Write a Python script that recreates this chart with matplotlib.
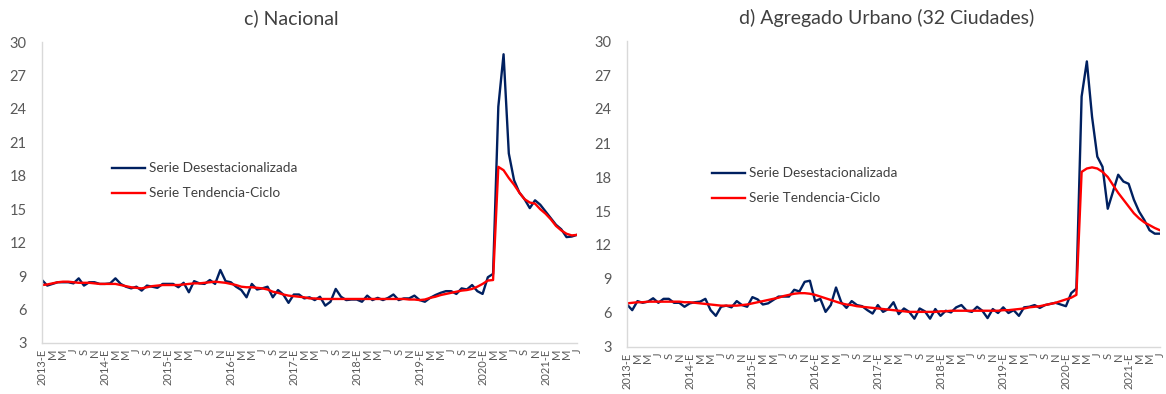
import matplotlib
matplotlib.use("Agg")
import matplotlib.pyplot as plt
import numpy as np

plt.rcParams['font.family'] = ['Lato', 'DejaVu Sans']

# Month labels: every other month from 2013-E to 2021-J
years = list(range(2013, 2022))
month_codes = ["E", "F", "M", "A", "M", "J", "J", "A", "S", "O", "N", "D"]

nac_desest = [8.65, 8.15, 8.3, 8.45, 8.45, 8.45, 8.35, 8.8, 8.15, 8.45, 8.45, 8.3,
              8.3, 8.35, 8.8, 8.3, 8.05, 7.9, 8.05, 7.7, 8.15, 8.05, 7.95, 8.3,
              8.3, 8.3, 8.0, 8.4, 7.55, 8.55, 8.35, 8.3, 8.65, 8.3, 9.55, 8.55,
              8.45, 8.05, 7.75, 7.1, 8.3, 7.8, 7.9, 8.05, 7.1, 7.75, 7.35, 6.6,
              7.35, 7.35, 7.0, 7.1, 6.85, 7.15, 6.35, 6.7, 7.85, 7.15, 6.85, 6.9,
              6.9, 6.7, 7.25, 6.85, 7.05, 6.85, 7.05, 7.35, 6.85, 7.0, 7.0, 7.25,
              6.85, 6.7, 7.05, 7.3, 7.5, 7.65, 7.65, 7.4, 7.9, 7.8, 8.2, 7.65,
              7.4, 8.9, 9.2, 24.2, 28.9, 20.0, 17.6, 16.5, 15.9, 15.1, 15.8, 15.4,
              14.8, 14.2, 13.6, 13.2, 12.5, 12.55, 12.7]

nac_tend = [8.2, 8.25, 8.35, 8.45, 8.5, 8.5, 8.45, 8.4, 8.4, 8.4, 8.35, 8.3,
            8.3, 8.3, 8.3, 8.2, 8.1, 8.0, 7.95, 7.9, 8.0, 8.1, 8.15, 8.2,
            8.2, 8.2, 8.2, 8.25, 8.3, 8.35, 8.35, 8.4, 8.45, 8.5, 8.45, 8.4,
            8.3, 8.2, 8.05, 8.0, 8.0, 7.95, 7.9, 7.8, 7.6, 7.5, 7.35, 7.25,
            7.2, 7.15, 7.1, 7.0, 7.0, 6.95, 6.95, 6.95, 6.95, 6.95, 6.95, 6.95,
            6.95, 6.95, 6.95, 6.95, 6.95, 6.95, 6.95, 6.95, 6.95, 6.95, 6.9, 6.9,
            6.85, 6.9, 7.05, 7.15, 7.3, 7.4, 7.5, 7.6, 7.7, 7.75, 7.85, 8.05,
            8.3, 8.6, 8.65, 18.8, 18.5, 17.8, 17.2, 16.5, 15.9, 15.6, 15.5, 15.0,
            14.6, 14.1, 13.5, 13.1, 12.8, 12.65, 12.7]

urb_desest = [6.75, 6.25, 7.05, 6.9, 7.0, 7.3, 6.9, 7.25, 7.25, 6.9, 6.9, 6.55,
              6.85, 6.95, 7.0, 7.25, 6.25, 5.75, 6.55, 6.65, 6.5, 7.05, 6.7, 6.55,
              7.4, 7.2, 6.75, 6.85, 7.15, 7.45, 7.45, 7.45, 8.05, 7.9, 8.75, 8.85,
              7.05, 7.25, 6.1, 6.7, 8.25, 6.95, 6.45, 7.05, 6.7, 6.6, 6.25, 5.95,
              6.7, 6.1, 6.35, 6.95, 5.9, 6.4, 6.1, 5.5, 6.4, 6.15, 5.5, 6.35,
              5.75, 6.2, 6.05, 6.5, 6.7, 6.2, 6.1, 6.55, 6.2, 5.55, 6.35, 6.0,
              6.5, 6.0, 6.25, 5.75, 6.5, 6.55, 6.7, 6.45, 6.7, 6.8, 6.9, 6.75,
              6.6, 7.75, 8.15, 25.1, 28.2, 23.3, 19.8, 18.9, 15.2, 16.7, 18.2, 17.6,
              17.4, 16.0, 14.95, 14.2, 13.3, 13.0, 13.0]

urb_tend = [6.85, 6.9, 6.95, 6.95, 7.0, 7.0, 7.0, 7.0, 7.0, 7.0, 7.0, 6.95,
            6.95, 6.9, 6.85, 6.8, 6.75, 6.7, 6.65, 6.65, 6.65, 6.65, 6.7, 6.75,
            6.85, 6.95, 7.05, 7.15, 7.25, 7.35, 7.5, 7.6, 7.7, 7.75, 7.75, 7.7,
            7.6, 7.45, 7.3, 7.15, 7.0, 6.85, 6.75, 6.7, 6.6, 6.55, 6.5, 6.45,
            6.4, 6.35, 6.3, 6.25, 6.2, 6.15, 6.1, 6.1, 6.1, 6.1, 6.1, 6.1,
            6.15, 6.15, 6.2, 6.2, 6.2, 6.2, 6.2, 6.2, 6.2, 6.2, 6.2, 6.2,
            6.25, 6.25, 6.3, 6.35, 6.4, 6.5, 6.55, 6.6, 6.7, 6.8, 6.9, 7.05,
            7.2, 7.35, 7.6, 18.45, 18.75, 18.85, 18.75, 18.45, 18.0, 17.3, 16.6, 16.0,
            15.4, 14.8, 14.35, 14.0, 13.75, 13.5, 13.3]

titles = ["c) Nacional", "d) Agregado Urbano (32 Ciudades)"]
legend_labels = ["Serie Desestacionalizada", "Serie Tendencia-Ciclo"]
yticks = [3, 6, 9, 12, 15, 18, 21, 24, 27, 30]

n = len(nac_desest)
tick_pos = []
tick_lab = []
for k in range(0, n, 2):
    y = years[k // 12]
    m = k % 12
    tick_pos.append(k)
    tick_lab.append(f"{y}-E" if m == 0 else month_codes[m])

BLUE = "#002060"
RED = "#FF0000"
GRAY = "#595959"
AXC = "#D9D9D9"

fig = plt.figure(figsize=(11.66, 3.94), dpi=100)
axes_rects = [
    [42 / 1166, (394 - 343) / 394, 535 / 1166, 301 / 394],
    [627 / 1166, (394 - 347) / 394, 533 / 1166, 306 / 394],
]
title_x = [291 / 1166, 887 / 1166]
legend_anchor = [(0.131, 0.60), (0.160, 0.587)]
series = [(nac_desest, nac_tend), (urb_desest, urb_tend)]

for idx in range(2):
    ax = fig.add_axes(axes_rects[idx])
    d, t = series[idx]
    x = np.arange(n)
    ax.plot(x, d, color=BLUE, lw=1.7, label=legend_labels[0])
    ax.plot(x, t, color=RED, lw=1.7, label=legend_labels[1])
    ax.set_xlim(0, n - 1)
    ax.set_ylim(3, 30)
    ax.set_yticks(yticks)
    ax.set_yticklabels([str(v) for v in yticks])
    ax.set_xticks(tick_pos)
    ax.set_xticklabels(tick_lab, rotation=90, fontsize=8, color=GRAY)
    ax.tick_params(axis='y', length=0, pad=11, labelsize=10.5, labelcolor=GRAY)
    ax.tick_params(axis='x', length=0, pad=4)
    for s in ['top', 'right']:
        ax.spines[s].set_visible(False)
    for s in ['left', 'bottom']:
        ax.spines[s].set_color(AXC)
        ax.spines[s].set_linewidth(1.0)
    fig.text(title_x[idx], 1 - 18 / 394, titles[idx], fontsize=14, color="#404040",
             ha='center', va='center')
    ax.legend(loc='upper left', bbox_to_anchor=legend_anchor[idx], frameon=False,
              fontsize=9.8, handlelength=2.4, handletextpad=0.3, labelspacing=0.95,
              borderpad=0, borderaxespad=0, labelcolor="#404040")

fig.savefig("out.png", dpi=100)
